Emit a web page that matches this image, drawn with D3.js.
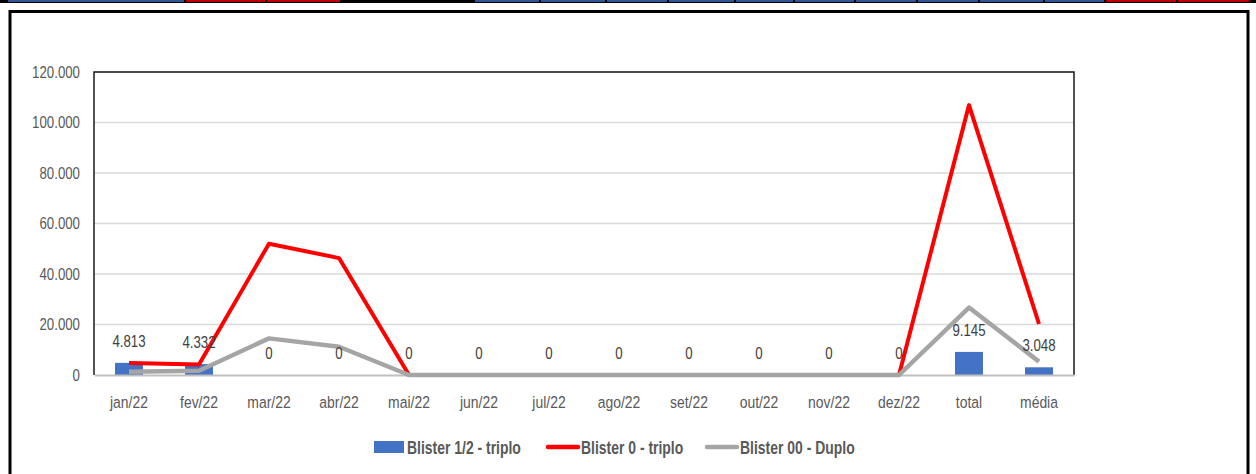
<!DOCTYPE html>
<html>
<head>
<meta charset="utf-8">
<script src="https://cdn.jsdelivr.net/npm/d3@7"></script>
<style>
  html, body { margin: 0; padding: 0; background: #ffffff; }
  svg { display: block; }
  text { font-family: "Liberation Sans", Arial, sans-serif; }
</style>
</head>
<body>
<svg id="chart" width="1256" height="474"></svg>
<script>
// ---- data ----
const categories = ["jan/22","fev/22","mar/22","abr/22","mai/22","jun/22","jul/22","ago/22","set/22","out/22","nov/22","dez/22","total","média"];
const seriesNames = ["Blister 1/2 - triplo", "Blister 0 - triplo", "Blister 00 - Duplo"];
const blisterMeioTriplo = [4813, 4332, 0, 0, 0, 0, 0, 0, 0, 0, 0, 0, 9145, 3048];
const blister0Triplo   = [4800, 4200, 52000, 46300, 0, 0, 0, 0, 0, 0, 0, 0, 106900, 20200];
const blister00Duplo   = [1300, 1700, 14500, 11200, 0, 0, 0, 0, 0, 0, 0, 0, 26700, 5300];
const yTicks = [0, 20000, 40000, 60000, 80000, 100000, 120000];
// decorative header strip (spreadsheet cells above the chart)
const stripCells = [
  [8,184,"#2F5597"],[186,265,"#C00000"],[267,340,"#C00000"],
  [475,539,"#2F5597"],[541,605,"#2F5597"],[607,667,"#2F5597"],[669,734,"#2F5597"],
  [736,793,"#2F5597"],[795,854,"#2F5597"],[856,916,"#2F5597"],[918,978,"#2F5597"],
  [980,1043,"#2F5597"],[1045,1104,"#2F5597"],[1106,1176,"#C00000"],[1178,1249,"#C00000"]
];

const locale = d3.formatLocale({decimal: ",", thousands: ".", grouping: [3], currency: ["", ""]});
const fmt = locale.format(",.0f");

const svg = d3.select("#chart");
const W = 1256, H = 474;
const textColor = "#595959";
const SX = 0.78; // horizontal condensing to mimic a narrow font

function squeeze(sel, sx) {
  sel.each(function () {
    const t = d3.select(this);
    const xv = +t.attr("x") || 0;
    t.attr("x", xv / sx).attr("transform", `scale(${sx},1)`);
  });
}

// header strip
svg.append("rect").attr("x", 0).attr("y", 0).attr("width", W).attr("height", 3).attr("fill", "#000");
svg.append("g").selectAll("rect").data(stripCells).join("rect")
  .attr("x", d => d[0]).attr("y", 0).attr("width", d => d[1] - d[0]).attr("height", 2)
  .attr("fill", d => d[2]);

// outer frame
svg.append("rect").attr("x", 10).attr("y", 11.5).attr("width", 1238).attr("height", 600)
  .attr("fill", "none").attr("stroke", "#000").attr("stroke-width", 3);

const plot = {left: 94, right: 1074, top: 72, bottom: 375};

const x = d3.scaleBand().domain(categories).range([plot.left, plot.right]).padding(0);
const y = d3.scaleLinear().domain([0, 120000]).range([plot.bottom, plot.top]);

// gridlines
svg.append("g").selectAll("line").data(yTicks.filter(t => t > 0)).join("line")
  .attr("x1", plot.left).attr("x2", plot.right)
  .attr("y1", d => y(d)).attr("y2", d => y(d))
  .attr("stroke", "#d9d9d9").attr("stroke-width", 1.5);

// plot border (top/right/left)
svg.append("path")
  .attr("d", `M${plot.left},${plot.bottom} V${plot.top} H${plot.right} V${plot.bottom}`)
  .attr("fill", "none").attr("stroke", "#1a1a1a").attr("stroke-width", 1.5);

// y axis labels
const yAxis = d3.axisLeft(y).tickValues(yTicks).tickFormat(fmt).tickSize(0).tickPadding(14);
const gy = svg.append("g").attr("transform", `translate(${plot.left},0)`).call(yAxis);
gy.select(".domain").remove();
gy.selectAll("text").attr("fill", textColor).style("font-size", "17px")
  .style("font-family", '"Liberation Sans", Arial, sans-serif');
squeeze(gy.selectAll("text"), SX);

// bars
const barW = x.bandwidth() * 0.4;
svg.append("g").selectAll("rect").data(blisterMeioTriplo).join("rect")
  .attr("x", (d, i) => x(categories[i]) + x.bandwidth() / 2 - barW / 2)
  .attr("y", d => y(d))
  .attr("width", barW)
  .attr("height", d => y(0) - y(d))
  .attr("fill", "#4472C4");

// x axis
const xAxis = d3.axisBottom(x).tickSize(0).tickPadding(21);
const gx = svg.append("g").attr("transform", `translate(0,${plot.bottom})`).call(xAxis);
gx.select(".domain").attr("stroke", "#bfbfbf").attr("stroke-width", 2);
gx.selectAll("text").attr("fill", textColor).style("font-size", "17px")
  .style("font-family", '"Liberation Sans", Arial, sans-serif');
squeeze(gx.selectAll("text"), 0.82);

// lines
const line = d3.line().x((d, i) => x(categories[i]) + x.bandwidth() / 2).y(d => y(d));
svg.append("path").datum(blister0Triplo).attr("d", line)
  .attr("fill", "none").attr("stroke", "#FF0000").attr("stroke-width", 4).attr("stroke-linejoin", "round");
svg.append("path").datum(blister00Duplo).attr("d", line)
  .attr("fill", "none").attr("stroke", "#A5A5A5").attr("stroke-width", 4.5).attr("stroke-linejoin", "round");

// bar data labels
const labels = svg.append("g").selectAll("text").data(blisterMeioTriplo).join("text")
  .attr("x", (d, i) => x(categories[i]) + x.bandwidth() / 2)
  .attr("y", d => y(d) - 16)
  .attr("text-anchor", "middle")
  .attr("fill", "#404040")
  .style("font-size", "17px")
  .text(d => fmt(d));
squeeze(labels, SX);

// legend
const legendColors = ["#4472C4", "#FF0000", "#A5A5A5"];
const legendX = [374, 548, 707];
const lg = svg.append("g");
seriesNames.forEach((name, i) => {
  const g = lg.append("g").attr("transform", `translate(${legendX[i]},447)`);
  if (i === 0) {
    g.append("rect").attr("x", 0).attr("y", -6).attr("width", 30).attr("height", 12).attr("fill", legendColors[i]);
  } else {
    g.append("line").attr("x1", 0).attr("x2", 30).attr("y1", 0).attr("y2", 0)
      .attr("stroke", legendColors[i]).attr("stroke-width", 4.5).attr("stroke-linecap", "round");
  }
  const t = g.append("text").attr("x", 33).attr("y", 6.5)
    .attr("fill", textColor).style("font-size", "18px").style("font-weight", "bold")
    .text(name);
  squeeze(t, 0.775);
});
</script>
</body>
</html>
